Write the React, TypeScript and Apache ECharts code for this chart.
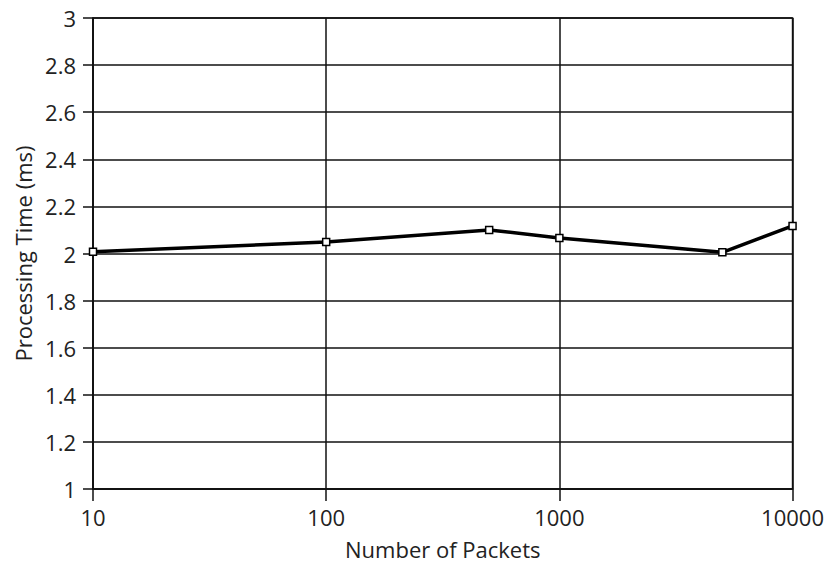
import React, { useEffect, useRef } from "react";
import * as echarts from "echarts";

const packets = [10, 100, 500, 1000, 5000, 10000];
const timesMs = [2.007, 2.049, 2.1, 2.066, 2.005, 2.117];
const xTicks = [10, 100, 1000, 10000];
const xName = "Number of Packets";
const yName = "Processing Time (ms)";

export default function App() {
  const ref = useRef<HTMLDivElement>(null);
  useEffect(() => {
    document.body.style.margin = "0";
    const chart = echarts.init(ref.current!, null, { renderer: "svg" });
    const font = "'Open Sans', 'DejaVu Sans', sans-serif";
    chart.setOption({
      animation: false,
      backgroundColor: "#ffffff",
      grid: {
        left: 93,
        right: 32,
        top: 18,
        bottom: 76,
        show: true,
        borderColor: "#111",
        borderWidth: 1.5,
      },
      xAxis: {
        type: "log",
        logBase: 10,
        min: 10,
        max: 10000,
        name: xName,
        nameLocation: "middle",
        nameGap: 49,
        nameTextStyle: { fontFamily: font, fontSize: 22, color: "#222" },
        axisLine: { show: true, lineStyle: { color: "#111", width: 1.5 } },
        axisTick: { show: true, length: 12, inside: false, lineStyle: { color: "#111", width: 1.5 } },
        axisLabel: {
          fontFamily: font,
          fontSize: 22,
          color: "#222",
          margin: 17,
          formatter: (v: number) => {
            const r = xTicks.find((t) => Math.abs(t - v) / t < 1e-6);
            return r !== undefined ? String(r) : "";
          },
        },
        splitLine: { show: true, lineStyle: { color: "#111", width: 1.5 } },
        minorTick: { show: false },
      },
      yAxis: {
        type: "value",
        min: 1,
        max: 3,
        interval: 0.2,
        name: yName,
        nameLocation: "middle",
        nameGap: 57,
        nameTextStyle: { fontFamily: font, fontSize: 22, color: "#222" },
        axisLine: { show: true, lineStyle: { color: "#111", width: 1.5 } },
        axisTick: { show: true, length: 10, lineStyle: { color: "#111", width: 1.5 } },
        axisLabel: {
          fontFamily: font,
          fontSize: 22,
          color: "#222",
          margin: 17,
          formatter: (v: number) => String(Math.round(v * 10) / 10),
        },
        splitLine: { show: true, lineStyle: { color: "#111", width: 1.5 } },
      },
      series: [
        {
          type: "line",
          data: packets.map((p, i) => [p, timesMs[i]]),
          symbol: "rect",
          symbolSize: 7,
          showAllSymbol: true,
          lineStyle: { color: "#000", width: 3.5 },
          itemStyle: { color: "#fff", borderColor: "#000", borderWidth: 1.5 },
        },
      ],
    });
    return () => chart.dispose();
  }, []);
  return <div ref={ref} style={{ width: 827, height: 565 }} />;
}
